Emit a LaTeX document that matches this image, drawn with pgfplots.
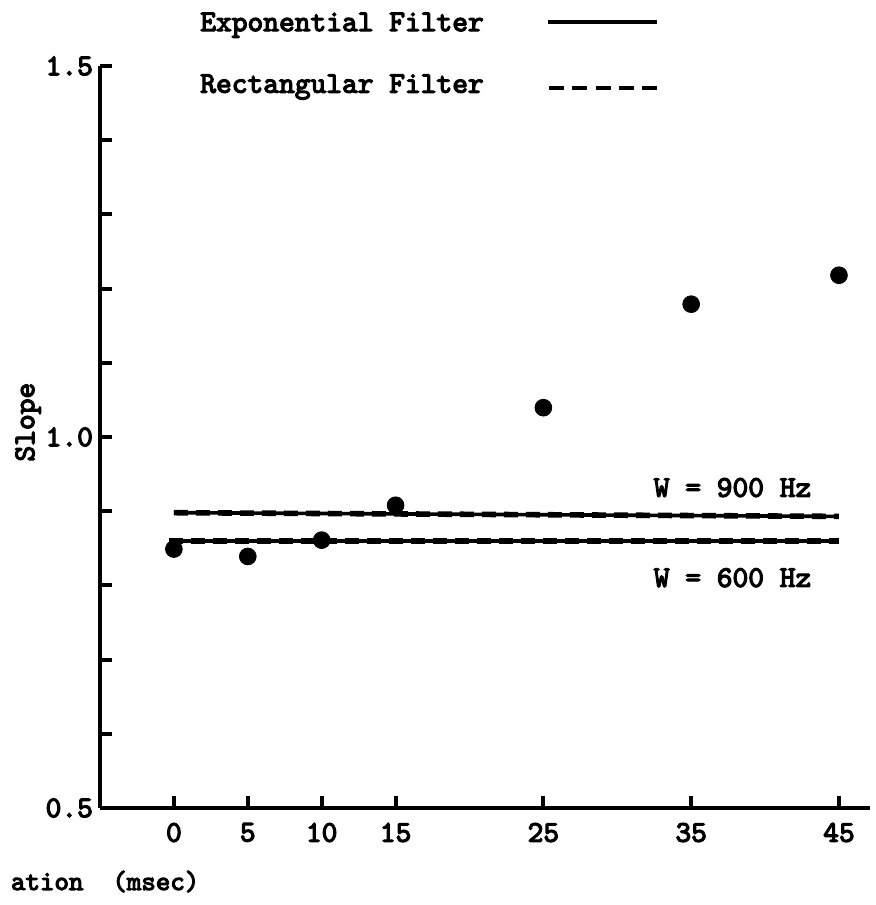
\documentclass[border=0pt]{standalone}
\usepackage{fontspec}
\setmonofont{lmmono10-regular.otf}[AutoFakeBold=4]
\usepackage{pgfplots}
\pgfplotsset{compat=1.18}
\begin{document}
\ttfamily\bfseries
\begin{tikzpicture}
\begin{axis}[
  name=ax,
  scale only axis,
  width=385pt, height=371pt,
  xmin=-5, xmax=47.1, ymin=0.5, ymax=1.5,
  axis lines=left,
  axis line style={-, line width=2.2pt},
  clip=false,
  xtick={0,5,10,15,25,35,45},
  ytick={0.5,0.6,0.7,0.8,0.9,1.0,1.1,1.2,1.3,1.4,1.5},
  yticklabels={0.5,,,,,1.0,,,,,1.5},
  tick align=inside,
  major tick length=6pt,
  tick style={line width=2pt, black},
  /pgf/number format/assume math mode=true,
  xticklabel style={font=\fontsize{15}{17}\selectfont, yshift=-4pt},
  yticklabel style={font=\fontsize{15}{17}\selectfont},
]
% W = 900 Hz
\addplot[line width=1.8pt] coordinates {(0,0.898) (45,0.893)};
\addplot[line width=2.8pt, dash pattern=on 7pt off 4pt] coordinates {(0,0.898) (45,0.893)};
% W = 600 Hz
\addplot[line width=1.8pt] coordinates {(-0.3,0.860) (45,0.860)};
\addplot[line width=2.8pt, dash pattern=on 7pt off 4pt] coordinates {(-0.3,0.860) (45,0.860)};
% data points
\addplot[only marks, mark=*, mark size=4.2pt, black] coordinates {
  (0,0.849) (5,0.839) (10,0.861) (15,0.908) (25,1.0395) (35,1.179) (45,1.218)};
% legend samples
\addplot[line width=2pt] coordinates {(25.3,1.559) (32.7,1.559)};
\addplot[line width=2pt, dash pattern=on 7.5pt off 4.1pt] coordinates {(25.4,1.471) (32.7,1.471)};
\node[anchor=base west, inner sep=0pt, font=\fontsize{15}{17}\selectfont] at (axis cs:1.76,1.547) {Exponential Filter};
\node[anchor=base west, inner sep=0pt, font=\fontsize{15}{17}\selectfont] at (axis cs:1.76,1.464) {Rectangular Filter};
\node[rotate=90, inner sep=0pt, font=\fontsize{15}{17}\selectfont] at (axis cs:-9.86,1.02) {Slope};
\node[anchor=base, inner sep=0pt, font=\fontsize{15}{17}\selectfont] at (axis cs:37.8,0.9195) {W = 900 Hz};
\node[anchor=base, inner sep=0pt, font=\fontsize{15}{17}\selectfont] at (axis cs:37.8,0.798) {W = 600 Hz};
\node[anchor=base east, inner sep=0pt, font=\fontsize{13.8}{16}\selectfont] at (axis cs:1.75,0.3895) {ation~~(msec)};
\end{axis}
\pgfresetboundingbox
\path ([shift={(-50pt,-48.5pt)}]ax.south west) rectangle ([shift={(387.5pt,404pt)}]ax.south west);
\end{tikzpicture}
\end{document}
